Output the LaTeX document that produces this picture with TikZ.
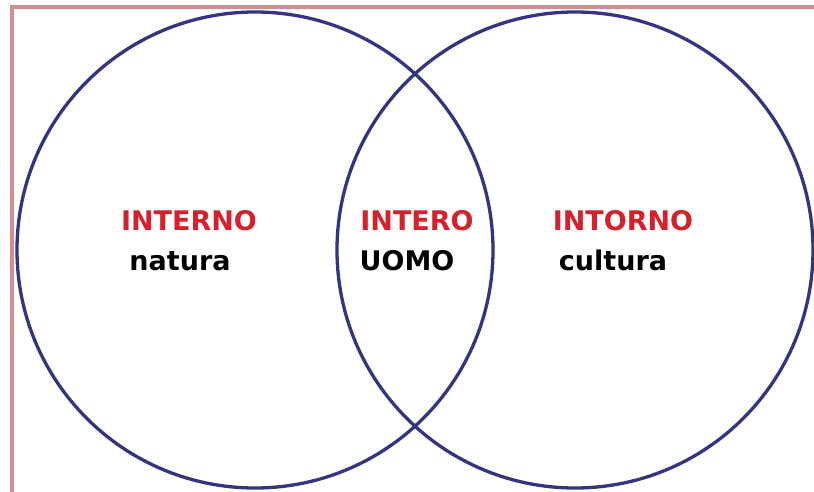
\documentclass[tikz,border=0pt]{standalone}
\usepackage{fontspec}
\setmainfont{DejaVu Sans}
\definecolor{ringblue}{RGB}{52,52,128}
\definecolor{framered}{RGB}{214,140,140}
\definecolor{wordred}{RGB}{214,32,44}

\begin{document}
\begin{tikzpicture}[x=1pt,y=-1pt]
\tikzstyle{every node}=[font=\bfseries\fontsize{27}{31}\selectfont, inner sep=0pt]
\tikzstyle{ring}=[draw=ringblue, line width=3.3pt, circle, minimum size=476pt]
\tikzstyle{head}=[text=wordred]
\tikzstyle{word}=[text=black]
\useasboundingbox (0,0) rectangle (814,492);
\fill[white] (0,0) rectangle (814,492);
\draw[framered, line width=3.4pt] (12,495) -- (12,7) -- (818,7);

\node[ring] (natcircle) at (255,250) {};
\node[ring] (culcircle) at (575,250) {};

\node[head] (interno) at (189,221) {INTERNO};
\node[word, anchor=base] (natura) at (180,270) {natura};
\node[head] (intero) at (417,221) {INTERO};
\node[word, anchor=base] (uomo) at (407,270) {UOMO};
\node[head] (intorno) at (623,221) {INTORNO};
\node[word, anchor=base] (cultura) at (613,270) {cultura};

\end{tikzpicture}
\end{document}
